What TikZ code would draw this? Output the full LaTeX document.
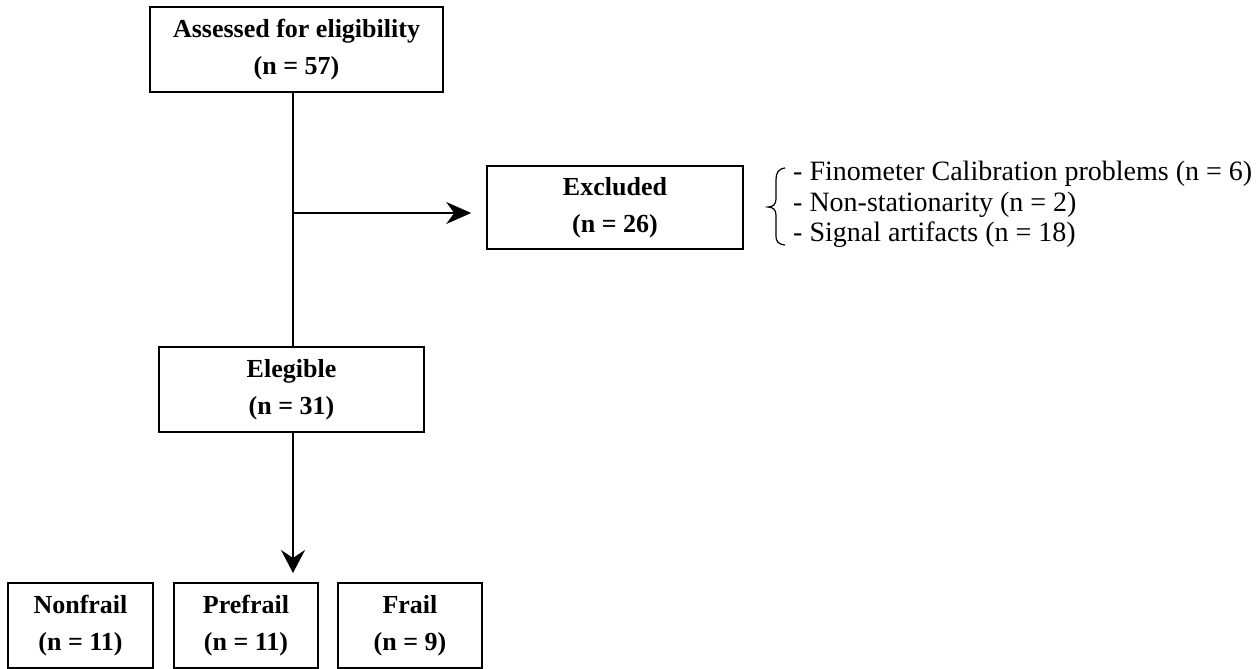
\documentclass[tikz,border=0pt]{standalone}
\usepackage{fontspec}
\setmainfont{Liberation Serif}
\usetikzlibrary{arrows.meta}
\tikzset{
  box/.style={draw, line width=1.6pt, inner sep=0pt, align=center,
    font=\fontsize{26}{37}\selectfont\bfseries},
  conn/.style={line width=1.6pt},
  harrow/.style={conn, -{Stealth[length=25pt,width=22pt,inset=8pt]}},
  varrow/.style={conn, -{Stealth[length=23pt,width=24pt,inset=8pt]}}
}
\begin{document}
\begin{tikzpicture}[x=1pt,y=-1pt]
\useasboundingbox (0,0) rectangle (1259,669);
\node[box, minimum width=293pt, minimum height=85pt] (top) at (296.5,49.5) {Assessed for eligibility\\(n = 57)};
\node[box, minimum width=256pt, minimum height=83pt] (excl) at (615,207.5) {Excluded\\(n = 26)};
\node[box, minimum width=265pt, minimum height=85pt] (eleg) at (291.5,389.5) {Elegible\\(n = 31)};
\node[box, minimum width=145pt, minimum height=85pt] (nonfrail) at (80.5,625.5) {Nonfrail\\(n = 11)};
\node[box, minimum width=144pt, minimum height=85pt] (prefrail) at (246,625.5) {Prefrail\\(n = 11)};
\node[box, minimum width=144pt, minimum height=85pt] (frail) at (410,625.5) {Frail\\(n = 9)};
\coordinate (branch) at (293,213);
\coordinate (tip) at (293,573);
\draw[conn] (top.south -| branch) -- (eleg.north -| branch);
\draw[harrow, shorten >=15pt] (branch) -- (branch -| excl.west);
\draw[varrow] (eleg.south -| branch) -- (tip);
\draw[line width=1.2pt] (785,168) .. controls (778,169) and (776,173) .. (776,180)
  -- (776,199) .. controls (776,204) and (773,207) .. (768,207)
  .. controls (773,207) and (776,210) .. (776,215)
  -- (776,235) .. controls (776,242) and (778,244) .. (785,245);
\node[anchor=north west, inner sep=0pt, align=left,
  font=\fontsize{28}{30.5}\selectfont] (reasons) at (793,161)
  {- Finometer Calibration problems (n = 6)\\- Non-stationarity (n = 2)\\- Signal artifacts (n = 18)};
\end{tikzpicture}
\end{document}
